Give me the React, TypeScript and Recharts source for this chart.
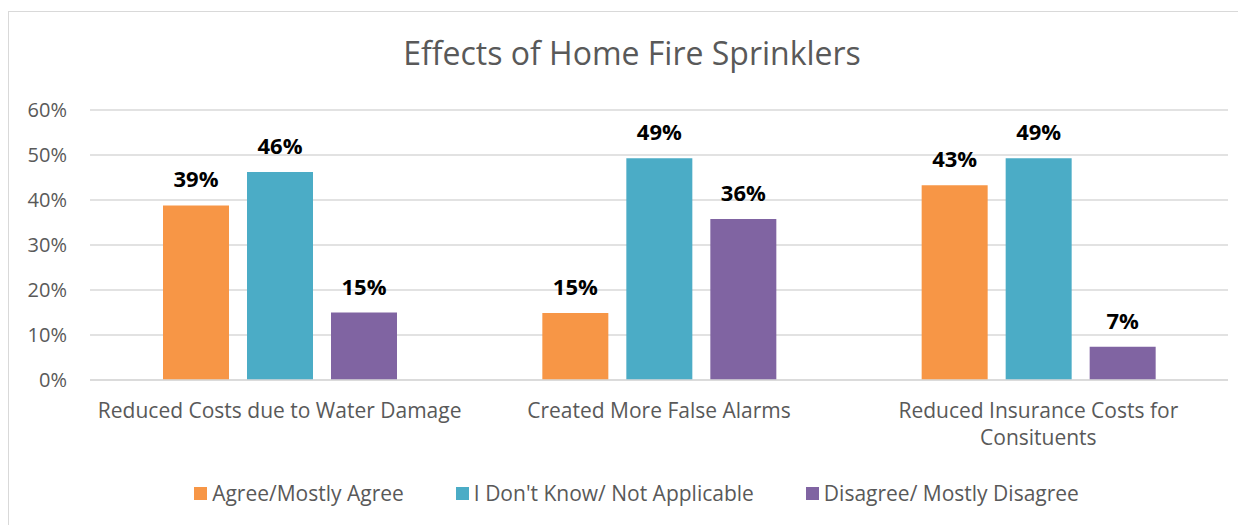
import { BarChart, Bar, XAxis, YAxis, CartesianGrid, Legend, LabelList } from "recharts";

// Survey results, percent of respondents
const categories = [
  "Reduced Costs due to Water Damage",
  "Created More False Alarms",
  "Reduced Insurance Costs for Consituents",
];
const agree = [38.8, 14.9, 43.3];
const dontKnow = [46.2, 49.3, 49.3];
const disagree = [15.0, 35.8, 7.4];
const yTicks = [0, 10, 20, 30, 40, 50, 60];

const series = [
  { key: "agree", name: "Agree/Mostly Agree", color: "#f79646", values: agree },
  { key: "dontKnow", name: "I Don't Know/ Not Applicable", color: "#4bacc6", values: dontKnow },
  { key: "disagree", name: "Disagree/ Mostly Disagree", color: "#8064a2", values: disagree },
];

const data = categories.map((name, i) => {
  const row: Record<string, string | number> = { name };
  series.forEach((s) => (row[s.key] = s.values[i]));
  return row;
});

const FONT = "'Open Sans', sans-serif";
const TEXT = "#595959";

// split a label into lines of at most maxChars
function wrap(label: string, maxChars = 34) {
  const lines: string[] = [];
  let cur = "";
  for (const w of label.split(" ")) {
    const next = cur ? cur + " " + w : w;
    if (next.length > maxChars && cur) {
      lines.push(cur);
      cur = w;
    } else cur = next;
  }
  if (cur) lines.push(cur);
  return lines;
}

function CategoryTick({ x, y, payload }: any) {
  const lines = wrap(String(payload.value), 34);
  return (
    <text x={x} y={y} textAnchor="middle" fill={TEXT} fontSize={21} fontFamily={FONT}>
      {lines.map((l, i) => (
        <tspan key={i} x={x} dy={i === 0 ? 38 : 27}>
          {l}
        </tspan>
      ))}
    </text>
  );
}

function LegendContent() {
  // legend sits a bit right of the plot centre, like the original
  return (
    <div style={{ display: "flex", justifyContent: "center", alignItems: "center", gap: 52, height: 40, paddingLeft: 36, fontFamily: FONT, fontSize: 21, color: TEXT }}>
      {series.map((s) => (
        <span key={s.key} style={{ display: "flex", alignItems: "center", gap: 5 }}>
          <span style={{ width: 13, height: 13, background: s.color, display: "inline-block" }} />
          {s.name}
        </span>
      ))}
    </div>
  );
}

export default function App() {
  return (
    <div style={{ position: "relative", width: 1246, height: 513, marginTop: 3, border: "1px solid #d9d9d9", background: "#fff" }}>
      <div style={{ position: "absolute", top: 19, left: 0, width: "100%", textAlign: "center", fontFamily: FONT, fontSize: 32, lineHeight: "normal", color: TEXT }}>
        Effects of Home Fire Sprinklers
      </div>
      <BarChart
        width={1246}
        height={513}
        data={data}
        margin={{ top: 98, right: 27, bottom: 12, left: 0 }}
        barSize={66}
        barGap={18}
      >
        <CartesianGrid vertical={false} stroke="#d9d9d9" strokeWidth={1.5} />
        <XAxis
          dataKey="name"
          height={93}
          tickLine={false}
          axisLine={{ stroke: "#d9d9d9", strokeWidth: 1.5 }}
          tickSize={0}
          tickMargin={0}
          interval={0}
          tick={<CategoryTick />}
        />
        <YAxis
          width={81}
          domain={[0, 60]}
          ticks={yTicks}
          axisLine={false}
          tickLine={false}
          tickSize={0}
          tickMargin={23}
          tickFormatter={(v) => `${v}%`}
          tick={{ fill: TEXT, fontSize: 20, fontFamily: FONT }}
        />
        <Legend verticalAlign="bottom" height={40} content={<LegendContent />} />
        {series.map((s) => (
          <Bar key={s.key} dataKey={s.key} name={s.name} fill={s.color} isAnimationActive={false}>
            <LabelList
              dataKey={s.key}
              position="top"
              offset={18}
              formatter={(v: any) => `${Math.round(Number(v))}%`}
              style={{ fill: "#000", fontSize: 22, fontWeight: 700, fontFamily: FONT }}
            />
          </Bar>
        ))}
      </BarChart>
    </div>
  );
}
